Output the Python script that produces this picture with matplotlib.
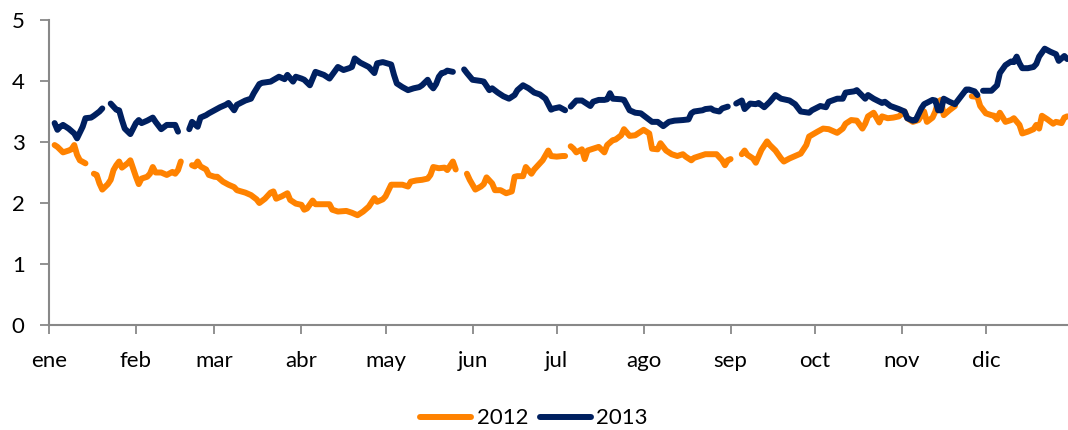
import numpy as np
import matplotlib
matplotlib.use("Agg")
import matplotlib.pyplot as plt

nan = np.nan

# Month tick labels and their day-of-year positions
months = ["ene", "feb", "mar", "abr", "may", "jun", "jul", "ago", "sep", "oct", "nov", "dic"]
month_days = [0, 31, 59, 90, 120, 151, 181, 212, 243, 273, 304, 334]

# Series 2013 (day of year, value); nan marks a gap
days_2013 = [2, 3, 4, 5, 7, 9, 10, 12, 13, 15, 16, 18, 19, 20,
             22, 24, 25, 26, 27, 29, 31, 32, 33, 35, 37, 38, 40, 42, 44, 45, 46, 48,
             50, 51, 53, 54, 56, 57, 59, 61, 63, 64, 66, 67, 70, 72, 73, 75, 76, 79,
             82, 84, 85, 87, 88, 90, 91, 93, 95, 98, 100, 103, 105, 107, 108, 109,
             111, 114, 116, 117, 119, 122, 123, 124, 126, 128, 130, 132, 133, 135,
             136, 137, 138, 139, 140, 141, 142, 144, 146,
             148, 149, 151, 154, 155, 157, 158, 160, 162, 164, 166, 167, 169, 171,
             173, 175, 177, 179, 180, 182, 184, 185,
             186, 188, 190, 192, 193, 194, 196, 198, 199, 200, 201, 204, 205, 207,
             209, 211, 213, 215, 217, 219, 221, 223, 226, 228, 229, 230, 233, 234,
             236, 237, 239, 240, 242, 244,
             245, 247, 248, 250, 252, 253, 255, 257, 259, 261, 264, 266, 268, 271,
             272, 275, 277, 278, 281, 283, 284, 287, 288, 291, 292, 294, 297, 298,
             300, 303, 305, 306, 308, 309, 311, 312, 315, 316, 317, 318, 319, 321,
             323, 325, 327, 328, 330, 331, 332,
             333, 336, 338, 339, 341, 343, 344, 345, 346, 347, 349, 351, 352, 353,
             355, 357, 359, 360, 362, 363]
vals_2013 = [3.31, 3.20, 3.25, 3.28, 3.22, 3.14, 3.06, 3.25, 3.39, 3.40, 3.43, 3.50, 3.55, nan,
             3.63, 3.53, 3.52, 3.36, 3.22, 3.13, 3.31, 3.36, 3.31, 3.35, 3.40, 3.33, 3.21, 3.28, 3.28, 3.28, 3.17, nan,
             3.21, 3.33, 3.25, 3.40, 3.44, 3.47, 3.52, 3.57, 3.61, 3.64, 3.52, 3.61, 3.68, 3.71, 3.80, 3.95, 3.97, 3.99,
             4.07, 4.03, 4.10, 3.99, 4.07, 4.04, 4.02, 3.93, 4.15, 4.10, 4.04, 4.23, 4.18, 4.21, 4.23, 4.37,
             4.30, 4.23, 4.13, 4.29, 4.31, 4.27, 4.10, 3.96, 3.90, 3.85, 3.88, 3.90, 3.93, 4.02,
             3.93, 3.88, 3.95, 4.07, 4.13, 4.14, 4.17, 4.15, nan,
             4.19, 4.13, 4.02, 4.00, 3.99, 3.85, 3.88, 3.81, 3.75, 3.71, 3.77, 3.85, 3.93, 3.88,
             3.81, 3.78, 3.71, 3.53, 3.55, 3.57, 3.52, nan,
             3.58, 3.68, 3.68, 3.62, 3.59, 3.66, 3.69, 3.69, 3.70, 3.80, 3.71, 3.70, 3.69, 3.52,
             3.48, 3.47, 3.40, 3.33, 3.33, 3.26, 3.33, 3.35, 3.36, 3.37, 3.47, 3.50, 3.52, 3.54,
             3.55, 3.52, 3.50, 3.55, 3.58, nan,
             3.63, 3.68, 3.54, 3.63, 3.62, 3.64, 3.57, 3.66, 3.77, 3.71, 3.68, 3.62, 3.50, 3.48,
             3.52, 3.59, 3.57, 3.66, 3.71, 3.71, 3.81, 3.83, 3.85, 3.71, 3.77, 3.71, 3.64, 3.66,
             3.59, 3.54, 3.50, 3.39, 3.35, 3.36, 3.55, 3.62, 3.69, 3.68, 3.52, 3.52, 3.71, 3.66,
             3.62, 3.74, 3.86, 3.86, 3.83, 3.77, nan,
             3.84, 3.84, 3.93, 4.13, 4.26, 4.32, 4.31, 4.40, 4.29, 4.21, 4.21, 4.23, 4.28, 4.40,
             4.53, 4.48, 4.44, 4.33, 4.41, 4.36]

# Series 2012
days_2012 = [2, 3, 5, 7, 8, 9, 10, 11, 13, 14,
             16, 17, 18, 19, 21, 22, 23, 24, 25, 26, 28, 29, 31, 32, 33, 35, 36, 37, 38,
             40, 42, 44, 45, 46, 47, 49,
             51, 52, 53, 54, 56, 57, 59, 60, 62, 64, 66, 67, 70, 72, 74, 75, 77, 79, 80,
             81, 83, 85, 86, 88, 90, 91, 92, 94, 95, 97, 100, 101, 103, 106, 108, 110,
             112, 114, 116, 117, 119, 120, 122, 123, 126, 128, 129, 131, 133, 135, 136,
             137, 139, 141, 142, 143, 144, 145, 147,
             149, 150, 152, 154, 155, 156, 158, 159, 161, 163, 165, 166, 167, 169, 170,
             172, 173, 175, 176, 178, 179, 181, 183, 184, 185,
             186, 187, 188, 190, 191, 192, 194, 196, 198, 199, 201, 202, 204, 205, 207,
             209, 211, 212, 214, 215, 217, 218, 220, 222, 224, 226, 227, 229, 230, 232,
             234, 237, 238, 240, 241, 242, 243, 245,
             247, 248, 249, 251, 252, 254, 256, 257, 259, 261, 262, 264, 266, 268, 270,
             271, 274, 276, 278, 281, 283, 284, 286, 288, 290, 291, 292, 294, 296, 297,
             299, 301, 303, 305, 306, 308, 310, 312, 313, 315, 316, 317, 318, 319, 321,
             323, 326,
             329, 331, 332, 334, 336, 337, 338, 339, 341, 343, 344, 346, 347, 349, 351,
             352, 353, 354, 356, 358, 359, 361, 362, 363]
vals_2012 = [2.95, 2.92, 2.83, 2.86, 2.88, 2.95, 2.79, 2.70, 2.65, nan,
             2.48, 2.46, 2.32, 2.22, 2.31, 2.38, 2.54, 2.62, 2.68, 2.58, 2.65, 2.70, 2.43, 2.31, 2.40, 2.43, 2.48, 2.59, 2.50,
             2.50, 2.46, 2.51, 2.48, 2.54, 2.68, nan,
             2.62, 2.60, 2.68, 2.60, 2.55, 2.46, 2.43, 2.43, 2.35, 2.30, 2.26, 2.21, 2.17, 2.13, 2.06, 2.00, 2.07, 2.17, 2.19,
             2.07, 2.11, 2.16, 2.05, 1.99, 1.97, 1.89, 1.91, 2.04, 1.98, 1.98, 1.98, 1.89, 1.86, 1.87, 1.84, 1.80,
             1.86, 1.94, 2.08, 2.02, 2.06, 2.11, 2.30, 2.30, 2.30, 2.27, 2.35, 2.37, 2.38, 2.40, 2.46,
             2.59, 2.57, 2.58, 2.54, 2.61, 2.68, 2.55, nan,
             2.48, 2.38, 2.22, 2.27, 2.31, 2.42, 2.32, 2.21, 2.21, 2.16, 2.19, 2.43, 2.44, 2.44, 2.59,
             2.48, 2.55, 2.65, 2.70, 2.86, 2.77, 2.76, 2.77, 2.77, nan,
             2.93, 2.89, 2.83, 2.88, 2.72, 2.86, 2.89, 2.92, 2.83, 2.95, 3.03, 3.04, 3.11, 3.21, 3.10,
             3.11, 3.17, 3.20, 3.14, 2.89, 2.88, 2.98, 2.86, 2.80, 2.77, 2.80, 2.76, 2.70, 2.74, 2.77,
             2.80, 2.80, 2.80, 2.70, 2.62, 2.70, 2.72, nan,
             2.80, 2.86, 2.79, 2.73, 2.66, 2.87, 3.01, 2.95, 2.86, 2.73, 2.68, 2.73, 2.77, 2.81, 2.95,
             3.09, 3.17, 3.22, 3.21, 3.15, 3.22, 3.30, 3.36, 3.35, 3.22, 3.30, 3.42, 3.48, 3.32, 3.42,
             3.39, 3.40, 3.42, 3.50, 3.39, 3.33, 3.36, 3.50, 3.33, 3.40, 3.50, 3.66, 3.69, 3.44, 3.52,
             3.59, nan,
             3.75, 3.74, 3.59, 3.47, 3.44, 3.43, 3.37, 3.48, 3.33, 3.36, 3.39, 3.28, 3.14, 3.17, 3.21,
             3.28, 3.22, 3.43, 3.37, 3.30, 3.33, 3.31, 3.40, 3.42]

col_2012 = "#FF8200"
col_2013 = "#002060"
axis_col = "#888888"

plt.rcParams["font.family"] = ["Lato", "DejaVu Sans"]

fig = plt.figure(figsize=(10.68, 4.30), dpi=100)
ax = fig.add_axes([49 / 1068, 105 / 430, 1019 / 1068, 305 / 430])

ax.plot(days_2012, vals_2012, color=col_2012, lw=4.3, solid_capstyle="round",
        solid_joinstyle="round", label="2012")
ax.plot(days_2013, vals_2013, color=col_2013, lw=4.3, solid_capstyle="round",
        solid_joinstyle="round", label="2013")

ax.set_xlim(0, 363.3)
ax.set_ylim(0, 5)
ax.set_yticks(range(0, 6))
ax.set_xticks(month_days)
ax.set_xticklabels(months)

for s in ["top", "right"]:
    ax.spines[s].set_visible(False)
for s in ["left", "bottom"]:
    ax.spines[s].set_color(axis_col)
    ax.spines[s].set_linewidth(1.5)

ax.tick_params(axis="y", direction="out", length=6.5, width=1.3, color=axis_col,
               labelsize=16, pad=11, labelcolor="black")
ax.tick_params(axis="x", direction="out", length=6.5, width=1.3, color=axis_col,
               labelsize=16, pad=12, labelcolor="black")
ax.spines["bottom"].set_zorder(0)

fig.legend(loc="center", bbox_to_anchor=(0.5, 0.027), ncol=2, frameon=False,
           fontsize=16, handlelength=2.3, handletextpad=0.25, columnspacing=0.5)

fig.savefig("out.png", dpi=100)
